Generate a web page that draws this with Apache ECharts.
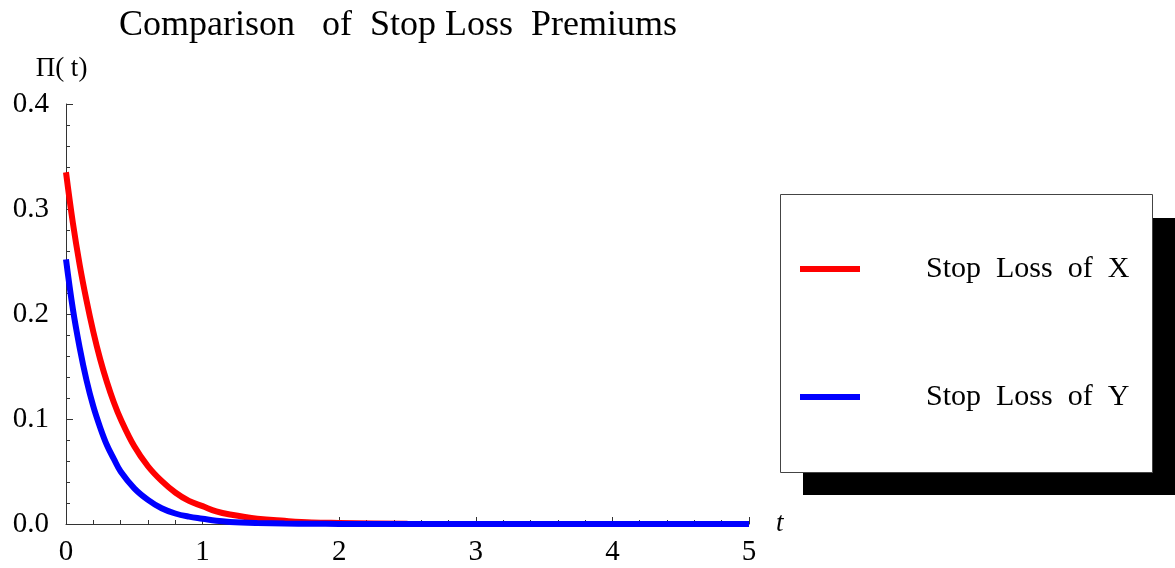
<!DOCTYPE html>
<html>
<head>
<meta charset="utf-8">
<script src="https://cdn.jsdelivr.net/npm/echarts@6/dist/echarts.min.js"></script>
<style>html,body{margin:0;padding:0;background:#fff}#c{width:1175px;height:568px}</style>
</head>
<body>
<div id="c"></div>
<script>
// ---- data ----
const titleText = 'Comparison   of  Stop Loss  Premiums';
const seriesNames = ['Stop  Loss  of  X', 'Stop  Loss  of  Y'];
const tValues = [0, 0.05, 0.1, 0.15, 0.2, 0.25, 0.3, 0.35, 0.4, 0.5, 0.6, 0.7, 0.8, 0.9, 1.0, 1.1, 1.2, 1.4, 1.6, 1.8, 2.0, 2.5, 3.0, 3.5, 4.0, 4.5, 5.0];
const stopLossX = [0.335, 0.287, 0.247, 0.213, 0.183, 0.157, 0.135, 0.116, 0.100, 0.074, 0.055, 0.041, 0.030, 0.022, 0.017, 0.012, 0.009, 0.005, 0.003, 0.0015, 0.001, 0.0002, 0, 0, 0, 0, 0];
const stopLossY = [0.252, 0.205, 0.168, 0.137, 0.112, 0.092, 0.075, 0.062, 0.050, 0.034, 0.023, 0.015, 0.010, 0.007, 0.005, 0.003, 0.002, 0.001, 0.0004, 0.0002, 0.0001, 0, 0, 0, 0, 0, 0];
const xTicks = [0, 1, 2, 3, 4, 5];
const yTicks = [0.0, 0.1, 0.2, 0.3, 0.4];

const serif = '"Liberation Serif", "DejaVu Serif", serif';
const chart = echarts.init(document.getElementById('c'), null, {renderer: 'canvas'});
const pairs = (ys) => tValues.map((t, i) => [t, ys[i]]);

chart.setOption({
  backgroundColor: '#ffffff',
  animation: false,
  title: {
    text: titleText,
    left: 114, top: 3,
    textStyle: {fontFamily: serif, fontWeight: 'normal', fontSize: 36, color: '#000'}
  },
  graphic: [
    {type: 'rect', z: 1, shape: {x: 803, y: 218, width: 380, height: 277}, style: {fill: '#000'}},
    {type: 'rect', z: 2, shape: {x: 780.5, y: 194.5, width: 372, height: 278}, style: {fill: '#fff', stroke: '#444', lineWidth: 1}}
  ],
  legend: {
    z: 10,
    orient: 'vertical',
    left: 800, top: 254,
    padding: 0,
    itemGap: 98,
    itemWidth: 60, itemHeight: 6,
    icon: 'rect',
    selectedMode: false,
    textStyle: {fontFamily: serif, fontSize: 30, color: '#000', lineHeight: 30, padding: [0, 0, 0, 61]},
    data: seriesNames
  },
  grid: {left: 66, right: 426, top: 104, bottom: 44, containLabel: false},
  xAxis: {
    type: 'value', min: xTicks[0], max: xTicks[xTicks.length - 1], interval: 1,
    name: 't', nameLocation: 'end', nameGap: 27,
    nameTextStyle: {fontFamily: serif, fontStyle: 'italic', fontSize: 27, color: '#000'},
    axisLine: {show: true, onZero: false, lineStyle: {color: '#333', width: 1}},
    axisTick: {show: true, inside: true, length: 7, lineStyle: {color: '#333'}},
    minorTick: {show: true, splitNumber: 5, length: 4, lineStyle: {color: '#333'}},
    splitLine: {show: false},
    axisLabel: {fontFamily: serif, fontSize: 29, color: '#000', margin: 14}
  },
  yAxis: {
    type: 'value', min: yTicks[0], max: yTicks[yTicks.length - 1], interval: 0.1,
    name: 'Π( t)', nameLocation: 'end', nameGap: 22,
    nameTextStyle: {fontFamily: serif, fontSize: 27, color: '#000', padding: [0, 9, 0, 0]},
    axisLine: {show: true, onZero: false, lineStyle: {color: '#333', width: 1}},
    axisTick: {show: true, inside: true, length: 7, lineStyle: {color: '#333'}},
    minorTick: {show: true, splitNumber: 5, length: 4, lineStyle: {color: '#333'}},
    splitLine: {show: false},
    axisLabel: {fontFamily: serif, fontSize: 29, color: '#000', margin: 17, formatter: (v) => v.toFixed(1)}
  },
  series: [
    {name: seriesNames[0], type: 'line', data: pairs(stopLossX), showSymbol: false, smooth: 0.4, clip: false,
     lineStyle: {color: '#ff0000', width: 6}, itemStyle: {color: '#ff0000'}, z: 3},
    {name: seriesNames[1], type: 'line', data: pairs(stopLossY), showSymbol: false, smooth: 0.4, clip: false,
     lineStyle: {color: '#0000ff', width: 6}, itemStyle: {color: '#0000ff'}, z: 4}
  ]
});
</script>
</body>
</html>
